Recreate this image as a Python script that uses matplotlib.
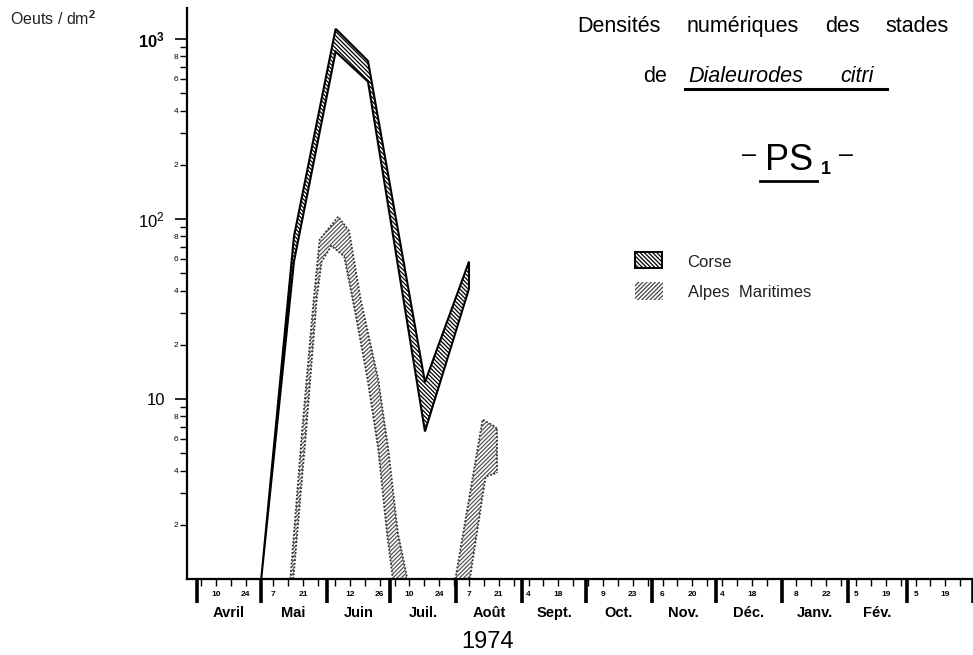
import numpy as np
import matplotlib
matplotlib.use("Agg")
import matplotlib.pyplot as plt
from matplotlib.patches import Rectangle
from matplotlib.lines import Line2D
from matplotlib.ticker import FixedLocator, FixedFormatter

plt.rcParams['font.family'] = ['Liberation Sans', 'DejaVu Sans']
plt.rcParams['mathtext.fontset'] = 'custom'
plt.rcParams['mathtext.rm'] = 'Liberation Sans'
plt.rcParams['mathtext.bf'] = 'Liberation Sans:bold'
plt.rcParams['mathtext.it'] = 'Liberation Sans:italic'
plt.rcParams['hatch.linewidth'] = 0.9

# ---------------- data (x = days counted from 1 April 1974) ----------------
corse_days = [30.3, 45.7, 65.3, 80.5, 107.3, 128.0]
corse_high = [1.0, 80, 1140, 755, 12.4, 58]
corse_low = [1.0, 58, 850, 580, 6.6, 41]

alpes1_high_days = [44.0, 49.5, 55.0, 57.8, 66.5, 71.6, 77.0, 85.3, 90.0, 94.5, 99.0]
alpes1_high = [1.0, 6.6, 36, 77, 103, 86, 36, 12.9, 5.3, 1.82, 1.0]
alpes1_low_days = [45.4, 51.4, 56.4, 58.7, 63.3, 69.3, 74.8, 80.3, 85.3, 89.4, 92.2]
alpes1_low = [1.0, 6.6, 36, 58, 71, 62, 29, 12.9, 5.3, 1.82, 1.0]

alpes2_high_days = [121.6, 134.4, 140.4, 141.3]
alpes2_high = [1.0, 7.7, 7.0, 6.8]
alpes2_low_days = [128.4, 135.8, 141.3]
alpes2_low = [1.0, 3.7, 3.9]

month_names = ['Avril', 'Mai', 'Juin', 'Juil.', 'Août', 'Sept.', 'Oct.',
               'Nov.', 'Déc.', 'Janv.', 'Fév.', '']
day_labels = [[10, 24], [7, 21], [12, 26], [10, 24], [7, 21], [4, 18],
              [9, 23], [6, 20], [4, 18], [8, 22], [5, 19], [5, 19]]
ytick_major = [10, 100, 1000]
ytick_major_labels = ['10', '10$^2$', '$\\mathbf{10^3}$']
minor_mults = [2, 3, 4, 5, 6, 7, 8, 9]

CORSE_HATCH = '\\' * 8
ALPES_HATCH = '/' * 8

# ---------------- layout helpers ----------------
W, H = 973, 655
def fx(px):
    return px / W
def fy(py):
    return 1 - py / H

fig = plt.figure(figsize=(W / 100, H / 100), dpi=100)
fig.patch.set_facecolor('white')
ax = fig.add_axes([fx(187), 76 / H, (W - 187) / W, 571 / H])
ax.set_yscale('log')
ax.set_ylim(1, 10 ** (571 / 180))
ax.set_xlim(-4.6, 358)

for s in ['top', 'right']:
    ax.spines[s].set_visible(False)
for s in ['left', 'bottom']:
    ax.spines[s].set_linewidth(1.6)

# ---------------- bands ----------------
ax.fill(corse_days + corse_days[::-1], corse_high + corse_low[::-1],
        facecolor='white', edgecolor='black', hatch=CORSE_HATCH, lw=1.5, zorder=3)

for hd, hv, ld, lv in [(alpes1_high_days, alpes1_high, alpes1_low_days, alpes1_low),
                       (alpes2_high_days, alpes2_high, alpes2_low_days, alpes2_low)]:
    ax.fill(hd + ld[::-1], hv + lv[::-1], facecolor='white',
            edgecolor='#555555', hatch=ALPES_HATCH, lw=0, zorder=2)
    ax.plot(hd, hv, color='#333333', lw=1.3, ls=(0, (1, 1)), zorder=2.5)
    ax.plot(ld, lv, color='#333333', lw=1.3, ls=(0, (1, 1)), zorder=2.5)
ax.plot([alpes2_high_days[-1], alpes2_low_days[-1]], [alpes2_high[-1], alpes2_low[-1]],
        color='#333333', lw=1.3, ls=(0, (1, 1)), zorder=2.5)

# ---------------- y axis ----------------
ax.yaxis.set_major_locator(FixedLocator(ytick_major))
ax.yaxis.set_major_formatter(FixedFormatter(ytick_major_labels))
minor_vals = [m * 10 ** k for k in range(3) for m in minor_mults]
minor_labs = [str(m) if m % 2 == 0 else '' for k in range(3) for m in minor_mults]
ax.yaxis.set_minor_locator(FixedLocator(minor_vals))
ax.yaxis.set_minor_formatter(FixedFormatter(minor_labs))
ax.tick_params(axis='y', which='major', length=9, width=1.2, pad=7, labelsize=12)
ax.tick_params(axis='y', which='minor', length=5, width=1.0, pad=1.5, labelsize=6)

# ---------------- x axis (calendar ruler) ----------------
origin = np.datetime64('1974-04-01')
month_starts = np.arange('1974-04', '1975-05', dtype='datetime64[M]').astype('datetime64[D]')
month_start_days = ((month_starts - origin) / np.timedelta64(1, 'D')).astype(float)

week_ticks = []
label_pos = []
label_txt = []
for i, labs in enumerate(day_labels):
    start = month_start_days[i]
    length = month_start_days[i + 1] - start
    d = labs[0]
    while d - 7 >= 1:
        d -= 7
    while d <= length:
        week_ticks.append(start + d - 1)
        d += 7
    for l in labs:
        label_pos.append(start + l - 1)
        label_txt.append(str(l))

ax.set_xticks(month_start_days)
ax.set_xticklabels([])
ax.set_xticks(week_ticks, minor=True)
ax.tick_params(axis='x', which='major', length=17, width=2.6, color='black')
ax.tick_params(axis='x', which='minor', length=5, width=1.0)

tx = ax.get_xaxis_transform()
for p, t in zip(label_pos, label_txt):
    ax.text(p, -0.028, t, transform=tx, ha='center', va='center',
            fontsize=6, fontweight='bold', clip_on=False)
for i, name in enumerate(month_names):
    c = (month_start_days[i] + month_start_days[i + 1]) / 2
    ax.text(c, -0.06, name, transform=tx, ha='center', va='center',
            fontsize=10.5, fontweight='bold', clip_on=False)

fig.text(fx(488), fy(642), '1974', ha='center', va='center', fontsize=17)
fig.text(fx(10), fy(25), 'Oeuts / dm$^{\\mathbf{2}}$', ha='left', va='baseline',
         fontsize=11.5, color='#222222')

# ---------------- title block ----------------
for word, x in [('Densités', 577), ('numériques', 687), ('des', 825), ('stades', 885)]:
    fig.text(fx(x), fy(32), word, ha='left', va='baseline', fontsize=15.5)
fig.text(fx(643), fy(82), 'de', ha='left', va='baseline', fontsize=15.5)
fig.text(fx(688), fy(82), 'Dialeurodes', ha='left', va='baseline', fontsize=15.5, style='italic')
fig.text(fx(840), fy(82), 'citri', ha='left', va='baseline', fontsize=15.5, style='italic')
fig.add_artist(Line2D([fx(685), fx(887)], [fy(89), fy(89)], color='black', lw=2.2))

fig.text(fx(749), fy(162), '–', ha='center', va='baseline', fontsize=18)
fig.text(fx(765), fy(170), 'PS', ha='left', va='baseline', fontsize=26)
fig.text(fx(821), fy(174), '1', ha='left', va='baseline', fontsize=13, fontweight='bold')
fig.text(fx(846), fy(162), '–', ha='center', va='baseline', fontsize=18)
fig.add_artist(Line2D([fx(760), fx(817)], [fy(181), fy(181)], color='black', lw=2.0))

# ---------------- legend ----------------
fig.add_artist(Rectangle((fx(635), fy(268)), 27 / W, 16 / H, transform=fig.transFigure,
                         facecolor='white', edgecolor='black', lw=1.4, hatch=CORSE_HATCH))
fig.add_artist(Rectangle((fx(635), fy(300)), 28 / W, 18 / H, transform=fig.transFigure,
                         facecolor='white', edgecolor='#444444', lw=0, hatch=ALPES_HATCH))
fig.text(fx(687), fy(267), 'Corse', ha='left', va='baseline', fontsize=12, color='#222222')
fig.text(fx(688), fy(297), 'Alpes  Maritimes', ha='left', va='baseline', fontsize=12,
         color='#222222')

fig.savefig('out.png', dpi=100)
